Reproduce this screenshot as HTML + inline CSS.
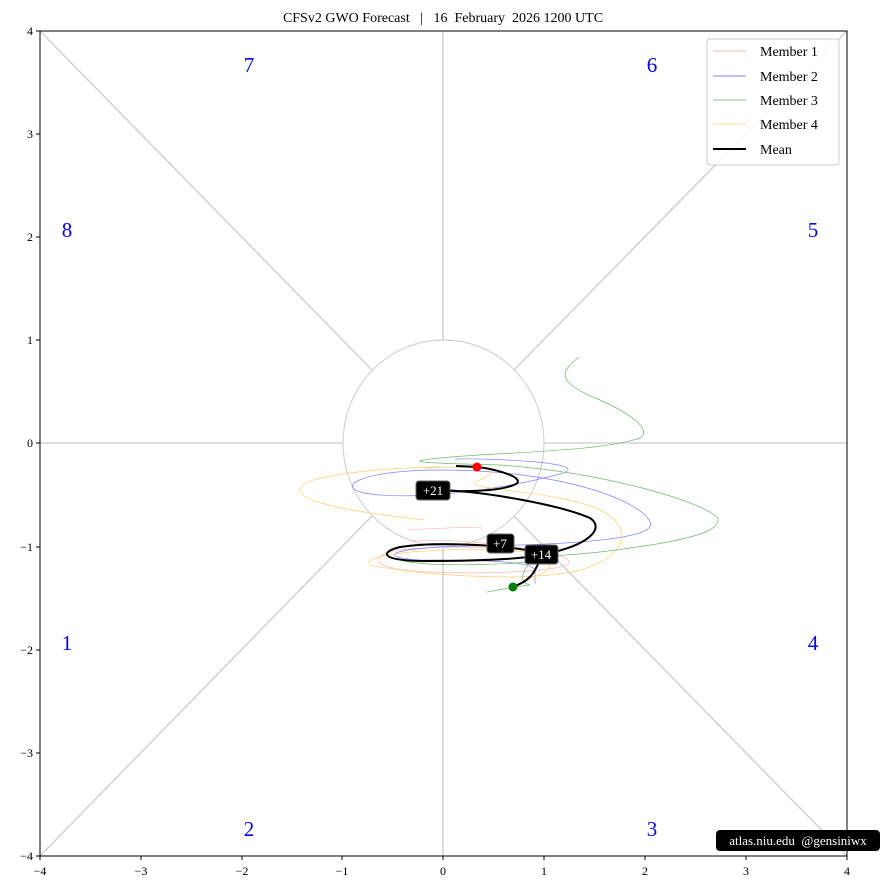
<!DOCTYPE html>
<html><head><meta charset="utf-8"><style>
html,body{margin:0;padding:0;background:#fff;}
svg{display:block;font-family:"Liberation Serif","DejaVu Serif",serif;}
text{white-space:pre;}
</style></head><body>
<svg width="881" height="890" viewBox="0 0 881 890" xmlns="http://www.w3.org/2000/svg">
<rect width="881" height="890" fill="#fff"/>
<text x="443" y="22" font-size="14" text-anchor="middle">CFSv2 GWO Forecast   |   16  February  2026 1200 UTC</text>
<g stroke="#d3d3d3" stroke-width="1.6" fill="none">
<line x1="40" y1="443" x2="343" y2="443"/><line x1="544" y1="443" x2="847" y2="443"/>
<line x1="443" y1="31" x2="443" y2="340"/><line x1="443" y1="546" x2="443" y2="856"/>
<line x1="40" y1="31" x2="372" y2="370"/><line x1="847" y1="31" x2="514" y2="370"/>
<line x1="40" y1="856" x2="372" y2="516"/><line x1="847" y1="856" x2="514" y2="516"/>
<ellipse cx="443.5" cy="443" rx="100.5" ry="103" stroke-width="1.2"/>
</g>
<g fill="none" stroke-width="0.7">
<path stroke="#ffb6b6" d="M408,530 C440,528 470,527 482,528 M410,541 C450,538 520,545 560,556 C600,570 500,575 430,572 C370,570 365,556 400,550 C440,545 500,547 520,552"/>
<path stroke="#8080ff" d="M455,459 C480,458 600,462 560,474 C500,490 420,500 370,494 C330,488 360,470 440,470 C560,470 640,500 650,522 C660,540 560,545 470,546 C380,548 380,558 420,560 C470,560 540,560 535,572 C535,580 535,585 535,583"/>
<path stroke="#ffcf70" d="M425,468 C500,465 500,470 480,480 C450,490 560,490 600,510 C640,530 620,560 580,570 C520,585 400,572 370,565 C360,555 420,548 500,550 C560,552 560,570 530,578 M425,520 C380,515 300,505 300,490 C300,475 380,468 440,467"/>
<path stroke="#70b870" d="M579,357 C560,372 555,382 600,400 C640,418 650,432 640,438 C600,452 500,452 440,458 C400,462 420,463 500,465 C600,472 700,500 718,518 C720,530 700,540 600,552 C520,560 400,562 400,560 C420,566 480,566 530,562 C520,575 520,582 530,585 C510,587 500,590 487,592"/>
</g>
<path d="M456,466 L478,467 C500,470 525,478 516,484 C500,492 460,492 433,490 C480,490 560,505 590,518 C605,528 590,545 545,554 C520,560 470,561 420,561 C380,560 380,552 400,547 C440,541 510,545 545,554 C545,554 540,560 535,570 C530,580 520,584 513,587" fill="none" stroke="#000" stroke-width="2"/>
<circle cx="477" cy="467" r="4.5" fill="red"/>
<circle cx="513" cy="587" r="4.5" fill="green"/>
<g font-size="13" fill="#fff">
<rect x="416" y="481" width="34" height="19" rx="3" fill="#000" stroke="#666"/><text x="433" y="495" text-anchor="middle">+21</text>
<rect x="487" y="534" width="27" height="19" rx="3" fill="#000" stroke="#666"/><text x="500" y="548" text-anchor="middle">+7</text>
<rect x="525" y="545" width="33" height="19" rx="3" fill="#000" stroke="#666"/><text x="541" y="559" text-anchor="middle">+14</text>
</g>
<g fill="#0000ff" font-size="21" text-anchor="middle">
<text x="249" y="72">7</text><text x="652" y="72">6</text>
<text x="67" y="237">8</text><text x="813" y="237">5</text>
<text x="67" y="650">1</text><text x="813" y="650">4</text>
<text x="249" y="836">2</text><text x="652" y="836">3</text>
</g>
<rect x="40" y="31" width="807" height="825" fill="none" stroke="#000" stroke-width="1"/>
<g stroke="#000" stroke-width="1">
<line x1="40" y1="856" x2="40" y2="860"/><line x1="141" y1="856" x2="141" y2="860"/><line x1="242" y1="856" x2="242" y2="860"/><line x1="342" y1="856" x2="342" y2="860"/><line x1="443" y1="856" x2="443" y2="860"/><line x1="544" y1="856" x2="544" y2="860"/><line x1="645" y1="856" x2="645" y2="860"/><line x1="746" y1="856" x2="746" y2="860"/><line x1="847" y1="856" x2="847" y2="860"/>
<line x1="36" y1="31" x2="40" y2="31"/><line x1="36" y1="134" x2="40" y2="134"/><line x1="36" y1="237" x2="40" y2="237"/><line x1="36" y1="340" x2="40" y2="340"/><line x1="36" y1="443" x2="40" y2="443"/><line x1="36" y1="547" x2="40" y2="547"/><line x1="36" y1="650" x2="40" y2="650"/><line x1="36" y1="753" x2="40" y2="753"/><line x1="36" y1="856" x2="40" y2="856"/>
</g>
<g font-size="12" text-anchor="middle">
<text x="40" y="875">−4</text><text x="141" y="875">−3</text><text x="242" y="875">−2</text><text x="342" y="875">−1</text><text x="443" y="875">0</text><text x="544" y="875">1</text><text x="645" y="875">2</text><text x="746" y="875">3</text><text x="847" y="875">4</text>
</g>
<g font-size="12" text-anchor="end">
<text x="33" y="35">4</text><text x="33" y="138">3</text><text x="33" y="241">2</text><text x="33" y="344">1</text><text x="33" y="447">0</text><text x="33" y="551">−1</text><text x="33" y="654">−2</text><text x="33" y="757">−3</text><text x="33" y="860">−4</text>
</g>
<rect x="707" y="39" width="132" height="126" rx="3" fill="#fff" fill-opacity="0.85" stroke="#ccc"/>
<g stroke-width="1">
<line x1="713" y1="51" x2="746" y2="51" stroke="#ffb6b6"/>
<line x1="713" y1="76" x2="746" y2="76" stroke="#8080ff"/>
<line x1="713" y1="100" x2="746" y2="100" stroke="#90c890"/>
<line x1="713" y1="124" x2="746" y2="124" stroke="#ffe090"/>
<line x1="713" y1="149" x2="746" y2="149" stroke="#000" stroke-width="2"/>
</g>
<g font-size="14">
<text x="760" y="56">Member 1</text><text x="760" y="81">Member 2</text><text x="760" y="105">Member 3</text><text x="760" y="129">Member 4</text><text x="760" y="154">Mean</text>
</g>
<rect x="716" y="830" width="164" height="21" rx="4" fill="#000"/>
<text x="798" y="845" font-size="13" fill="#fff" text-anchor="middle">atlas.niu.edu  @gensiniwx</text>
</svg>
</body></html>
